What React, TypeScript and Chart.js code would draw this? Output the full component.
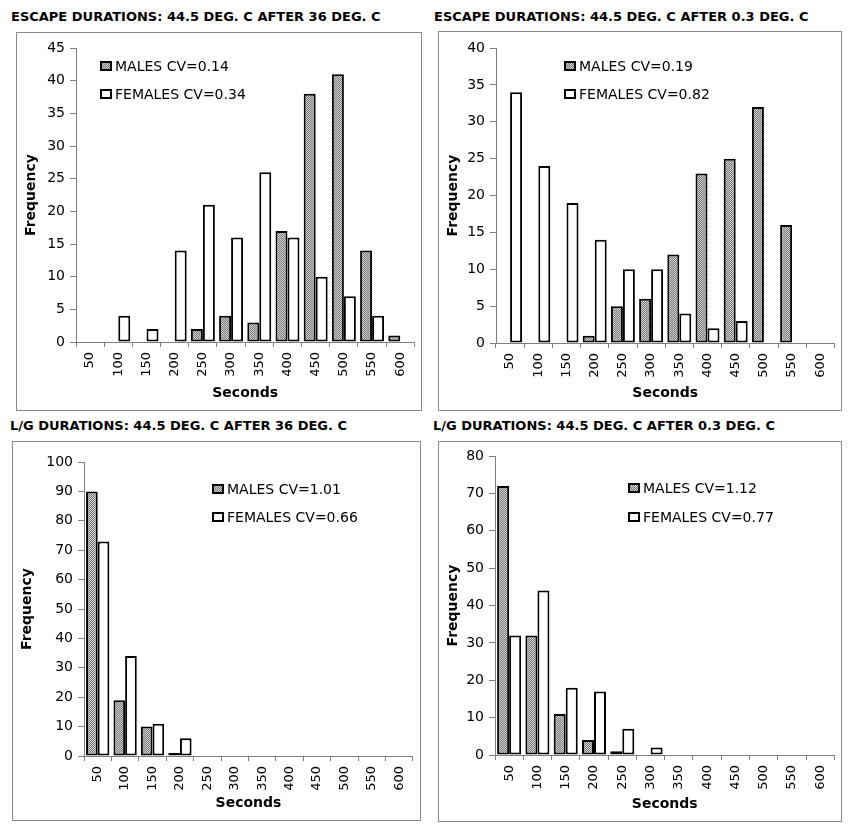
import React, { useEffect, useRef } from "react";
import { Chart, registerables } from "chart.js";

Chart.register(...registerables);

const categories = ["50", "100", "150", "200", "250", "300", "350", "400", "450", "500", "550", "600"];

const titles = [
  "ESCAPE DURATIONS: 44.5 DEG. C AFTER 36 DEG. C",
  "ESCAPE DURATIONS: 44.5 DEG. C AFTER 0.3 DEG. C",
  "L/G DURATIONS: 44.5 DEG. C AFTER 36 DEG. C",
  "L/G DURATIONS: 44.5 DEG. C AFTER 0.3 DEG. C",
];

const maleLabels = ["MALES CV=0.14", "MALES CV=0.19", "MALES CV=1.01", "MALES CV=1.12"];
const femaleLabels = ["FEMALES CV=0.34", "FEMALES CV=0.82", "FEMALES CV=0.66", "FEMALES CV=0.77"];

const escape36Males = [0, 0, 0, 0, 2, 4, 3, 17, 38, 41, 14, 1];
const escape36Females = [0, 4, 2, 14, 21, 16, 26, 16, 10, 7, 4, 0];
const escape03Males = [0, 0, 0, 1, 5, 6, 12, 23, 25, 32, 16, 0];
const escape03Females = [34, 24, 19, 14, 10, 10, 4, 2, 3, 0, 0, 0];
const lg36Males = [90, 19, 10, 1, 0, 0, 0, 0, 0, 0, 0, 0];
const lg36Females = [73, 34, 11, 6, 0, 0, 0, 0, 0, 0, 0, 0];
const lg03Males = [72, 32, 11, 4, 1, 0, 0, 0, 0, 0, 0, 0];
const lg03Females = [32, 44, 18, 17, 7, 2, 0, 0, 0, 0, 0, 0];

const yMax = [45, 40, 100, 80];
const yStep = [5, 5, 10, 10];

const xTitle = "Seconds";
const yTitle = "Frequency";

const FONT = "'DejaVu Sans', sans-serif";

type Geo = {
  box: { x: number; y: number; w: number; h: number };
  area: { l: number; t: number; r: number; b: number };
  legend: { x: number; y1: number; y2: number };
  title: { x: number; y: number };
};

const layouts: Geo[] = [
  { box: { x: 16, y: 32, w: 406, h: 379 }, area: { l: 76, t: 48, r: 418, b: 342 }, legend: { x: 100, y1: 66, y2: 94 }, title: { x: 11, y: 9 } },
  { box: { x: 438, y: 31, w: 404, h: 380 }, area: { l: 496, t: 48, r: 839, b: 343 }, legend: { x: 564, y1: 66, y2: 94 }, title: { x: 434, y: 9 } },
  { box: { x: 12, y: 441, w: 409, h: 380 }, area: { l: 84, t: 462, r: 416, b: 756 }, legend: { x: 212, y1: 489, y2: 517 }, title: { x: 10, y: 418 } },
  { box: { x: 438, y: 441, w: 404, h: 381 }, area: { l: 495, t: 456, r: 838, b: 755 }, legend: { x: 628, y1: 488, y2: 517 }, title: { x: 433, y: 418 } },
];

const seriesSets = [
  [escape36Males, escape36Females],
  [escape03Males, escape03Females],
  [lg36Males, lg36Females],
  [lg03Males, lg03Females],
];

function makePattern(): CanvasPattern | string {
  const c = document.createElement("canvas");
  c.width = 2;
  c.height = 2;
  const g = c.getContext("2d");
  if (!g) return "#a4a4a4";
  g.fillStyle = "#cfcfcf";
  g.fillRect(0, 0, 2, 2);
  g.fillStyle = "#7a7a7a";
  g.fillRect(0, 0, 1, 1);
  g.fillRect(1, 1, 1, 1);
  const p = g.createPattern(c, "repeat");
  return p || "#a4a4a4";
}

function Panel({ idx }: { idx: number }) {
  const ref = useRef<HTMLCanvasElement>(null);
  const geo = layouts[idx];
  const cw = geo.box.w - 2;
  const ch = geo.box.h - 2;
  const cx = geo.box.x + 1;
  const cy = geo.box.y + 1;

  useEffect(() => {
    if (!ref.current) return;
    const pattern = makePattern();
    const [males, females] = seriesSets[idx];
    const legendPlugin = {
      id: "innerLegend",
      afterDraw(chart: any) {
        const ctx = chart.ctx;
        const lx = geo.legend.x - cx;
        const ys = [geo.legend.y1 - cy, geo.legend.y2 - cy];
        chart.data.datasets.forEach((ds: any, i: number) => {
          const y = ys[i];
          ctx.save();
          ctx.fillStyle = ds.backgroundColor;
          ctx.fillRect(lx, y - 5, 12, 10);
          ctx.strokeStyle = "#000";
          ctx.lineWidth = 2;
          ctx.strokeRect(lx + 1, y - 4, 10, 8);
          ctx.fillStyle = "#000";
          ctx.font = `14px ${FONT}`;
          ctx.textBaseline = "middle";
          ctx.textAlign = "left";
          ctx.fillText(ds.label, lx + 15, y + 1);
          ctx.restore();
        });
      },
    };
    const chart = new Chart(ref.current, {
      type: "bar",
      data: {
        labels: categories,
        datasets: [
          {
            label: maleLabels[idx],
            data: males,
            backgroundColor: pattern as any,
            borderColor: "#000",
            borderWidth: ((c: any) => (c.raw === 0 ? 0 : 2)) as any,
            borderSkipped: false,
            categoryPercentage: 0.85,
            barPercentage: 1,
          },
          {
            label: femaleLabels[idx],
            data: females,
            backgroundColor: "#ffffff",
            borderColor: "#000",
            borderWidth: ((c: any) => (c.raw === 0 ? 0 : 2)) as any,
            borderSkipped: false,
            categoryPercentage: 0.85,
            barPercentage: 1,
          },
        ],
      },
      options: {
        responsive: false,
        animation: false,
        devicePixelRatio: 1,
        layout: {
          padding: {
            left: 0,
            top: geo.area.t - cy,
            right: cw - (geo.area.r - cx),
            bottom: 0,
          },
        },
        plugins: {
          legend: { display: false },
          tooltip: { enabled: false },
          title: { display: false },
        },
        scales: {
          x: {
            offset: true,
            grid: {
              offset: true,
              drawOnChartArea: false,
              drawTicks: true,
              tickLength: 5,
              color: "#808080",
              lineWidth: 1,
            },
            border: { color: "#808080", width: 1 },
            ticks: {
              autoSkip: false,
              maxRotation: 90,
              minRotation: 90,
              padding: 5,
              color: "#000",
              font: { family: FONT, size: 13 },
            },
            title: {
              display: true,
              text: xTitle,
              color: "#000",
              font: { family: FONT, size: 14, weight: "bold" },
              padding: { top: 0, bottom: 8 },
            },
            afterFit: (s: any) => {
              s.height = ch - (geo.area.b - cy);
            },
          },
          y: {
            min: 0,
            max: yMax[idx],
            grid: {
              drawOnChartArea: false,
              drawTicks: true,
              tickLength: 6,
              color: "#808080",
              lineWidth: 1,
            },
            border: { color: "#808080", width: 1 },
            ticks: {
              stepSize: yStep[idx],
              padding: 5,
              color: "#000",
              font: { family: FONT, size: 14 },
            },
            title: {
              display: true,
              text: yTitle,
              color: "#000",
              font: { family: FONT, size: 14, weight: "bold" },
              padding: { top: 6, bottom: 0 },
            },
            afterFit: (s: any) => {
              s.width = geo.area.l - cx;
            },
          },
        },
      },
      plugins: [legendPlugin],
    });
    return () => chart.destroy();
  }, [idx]);

  return (
    <>
      <div
        style={{
          position: "absolute",
          left: geo.title.x,
          top: geo.title.y,
          fontFamily: FONT,
          fontWeight: "bold",
          fontSize: 13,
          lineHeight: "16px",
          whiteSpace: "nowrap",
          color: "#000",
        }}
      >
        {titles[idx]}
      </div>
      <div
        style={{
          position: "absolute",
          left: geo.box.x,
          top: geo.box.y,
          width: geo.box.w,
          height: geo.box.h,
          boxSizing: "border-box",
          border: "1px solid #8a8a8a",
          background: "#fff",
        }}
      >
        <canvas ref={ref} width={cw} height={ch} style={{ display: "block", width: cw, height: ch }} />
      </div>
    </>
  );
}

export default function App() {
  return (
    <div style={{ position: "absolute", left: 0, top: 0, width: 852, height: 834, background: "#fff" }}>
      {[0, 1, 2, 3].map((i) => (
        <Panel key={i} idx={i} />
      ))}
    </div>
  );
}
